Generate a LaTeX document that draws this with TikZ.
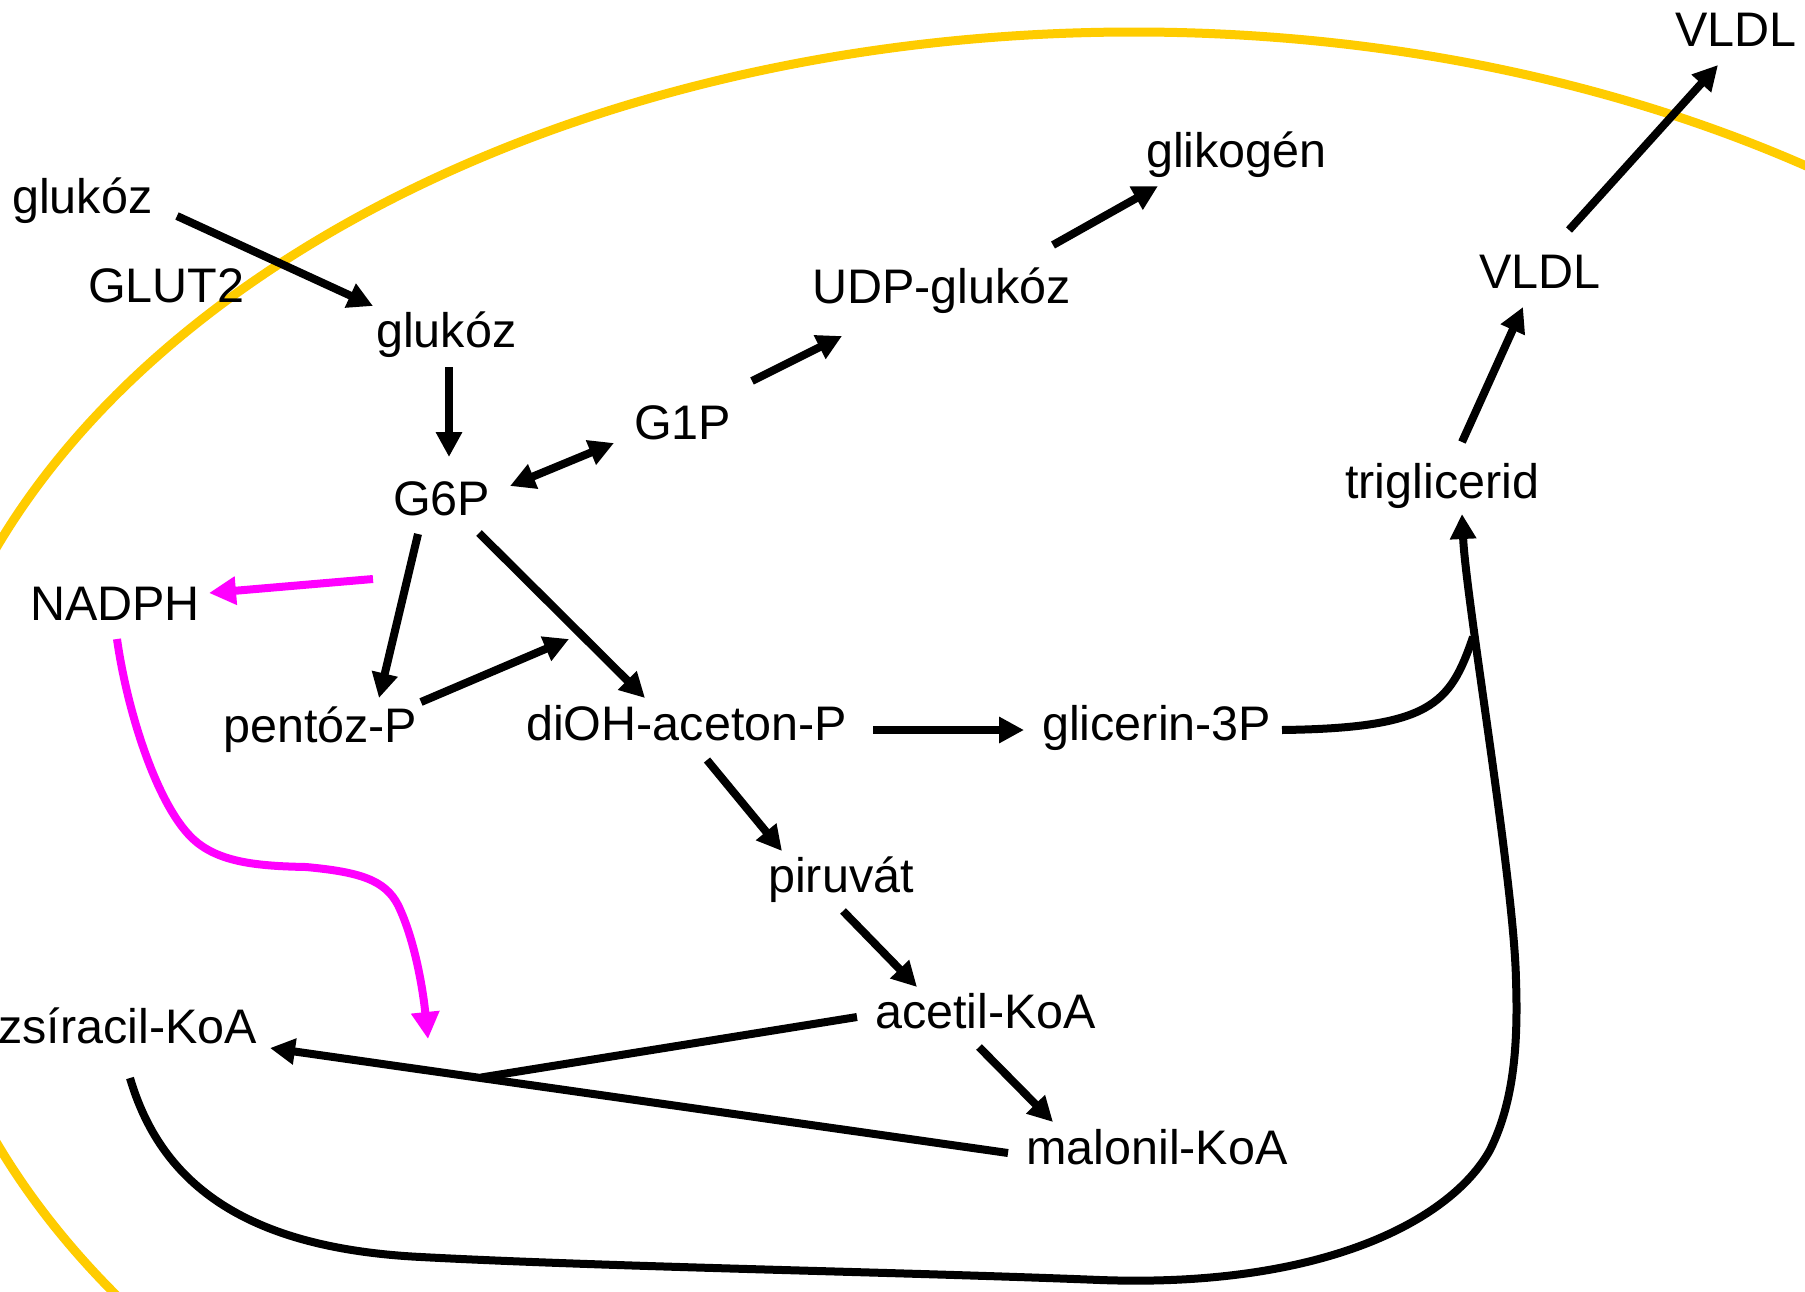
\documentclass[tikz,border=0pt]{standalone}
\usepackage{fontspec}
\setmainfont{Liberation Sans}
\usetikzlibrary{arrows.meta,calc}
\definecolor{membrane}{RGB}{255,204,0}
\definecolor{nadphpink}{RGB}{255,0,255}

\begin{document}
\begin{tikzpicture}[x=1pt,y=-1pt,
  lbl/.style={anchor=base west,inner sep=0pt,font=\fontsize{48.5}{58}\selectfont},
  flow/.style={line width=8pt,-{Triangle[length=25pt,width=25pt]}},
  both/.style={line width=8pt,{Triangle[length=25pt,width=25pt]}-{Triangle[length=25pt,width=25pt]}},
  link/.style={line width=8pt},
  redox/.style={line width=8pt,draw=nadphpink,color=nadphpink,-{Triangle[length=27pt,width=27pt]}}]

\useasboundingbox (0,0) rectangle (1805,1291);
\fill[white] (0,0) rectangle (1805,1291);

% cell membrane
\begin{scope}
  \clip (0,0) rectangle (1805,1291);
  \draw[membrane,line width=9pt] (1134,845) ellipse [x radius=1222pt, y radius=813pt];
\end{scope}

% metabolites
\node[lbl] (gluOut)  at (12,213)   {glukóz};
\node[lbl] (glut)    at (88,302)   {GLUT2};
\node[lbl] (gluIn)   at (376,347)  {glukóz};
\node[lbl] (gsixp)   at (393,515)  {G6P};
\node[lbl] (gonep)   at (634,439)  {G1P};
\node[lbl] (udp)     at (812,303)  {UDP-glukóz};
\node[lbl] (glyco)   at (1146,167) {glikogén};
\node[lbl] (vldlOut) at (1675,46)  {VLDL};
\node[lbl] (vldlIn)  at (1479,288) {VLDL};
\node[lbl] (tg)      at (1345,498) {triglicerid};
\node[lbl] (nadph)   at (30,620)   {NADPH};
\node[lbl] (pent)    at (223,742)  {pentóz-P};
\node[lbl] (dhap)    at (526,740)  {diOH-aceton-P};
\node[lbl] (gthreep) at (1042,740) {glicerin-3P};
\node[lbl] (pyr)     at (768,892)  {piruvát};
\node[lbl] (acoa)    at (875,1028) {acetil-KoA};
\node[lbl] (facoa)   at (-2,1043)  {zsíracil-KoA};
\node[lbl] (mcoa)    at (1026,1164){malonil-KoA};

% free ends
\coordinate (merge) at (481,1077.5);
\coordinate (nadphTarget) at (428,1039);
\coordinate (tgJoin) at (1473,637);

% glucose uptake and glycogen synthesis
\draw[flow] ($(gluOut.base west)+(165,3)$) -- ($(gluIn.base west)+(-3,-41)$);
\draw[flow] ($(gluIn.base west)+(73,20)$) -- ($(gsixp.base west)+(56,-58)$);
\draw[both] ($(gsixp.base west)+(117,-29)$) -- ($(gonep.base west)+(-20,4)$);
\draw[flow] ($(gonep.base west)+(118,-58)$) -- ($(udp.base west)+(30,33)$);
\draw[flow] ($(udp.base west)+(241,-58)$) -- ($(glyco.base west)+(12,19)$);

% triglyceride export
\draw[flow] ($(tg.base west)+(117,-56)$) -- ($(vldlIn.base west)+(44,19)$);
\draw[flow] ($(vldlIn.base west)+(90,-58)$) -- ($(vldlOut.base west)+(43,19)$);

% pentose phosphate pathway and glycolysis
\draw[redox] ($(gsixp.base west)+(-20,64)$) -- ($(nadph.base west)+(179,-27)$);
\draw[flow] ($(gsixp.base west)+(25,19)$) -- ($(pent.base west)+(156,-44)$);
\draw[flow] ($(gsixp.base west)+(86,18)$) -- ($(dhap.base west)+(119,-42)$);
\draw[flow] ($(pent.base west)+(198,-40)$) -- ($(dhap.base west)+(43,-101)$);
\draw[flow] ($(dhap.base west)+(347,-10)$) -- ($(gthreep.base west)+(-18,-10)$);
\draw[flow] ($(dhap.base west)+(181,20)$) -- ($(pyr.base west)+(14,-41)$);
\draw[flow] ($(pyr.base west)+(75,19)$) -- ($(acoa.base west)+(42,-41)$);
\draw[flow] ($(acoa.base west)+(104,19)$) -- ($(mcoa.base west)+(27,-42)$);

% fatty acid synthesis
\draw[flow] ($(mcoa.base west)+(-18,-11)$) -- ($(facoa.base west)+(272,5)$);
\draw[link] ($(acoa.base west)+(-18,-11)$) -- (merge);

% NADPH supply
\draw[redox] ($(nadph.base west)+(87,19)$)
  .. controls (127,710) and (156,802) .. (191,837)
  .. controls (216,862) and (255,866) .. (306,867)
  .. controls (360,872) and (385,880) .. (398,905)
  .. controls (415,940) and (423,990) .. (nadphTarget);

% esterification
\draw[flow] ($(facoa.base west)+(132,35)$)
  .. controls (160,1180) and (240,1248) .. (421,1257)
  .. controls (610,1267) and (900,1272) .. (1100,1280)
  .. controls (1320,1288) and (1450,1222) .. (1490,1150)
  .. controls (1515,1100) and (1518,1040) .. (1516,980)
  .. controls (1514,880) and (1466,600) .. ($(tg.base west)+(117,16)$);
\draw[link] ($(gthreep.base west)+(240,-10)$)
  .. controls (1430,728) and (1450,705) .. (tgJoin);

\end{tikzpicture}
\end{document}
